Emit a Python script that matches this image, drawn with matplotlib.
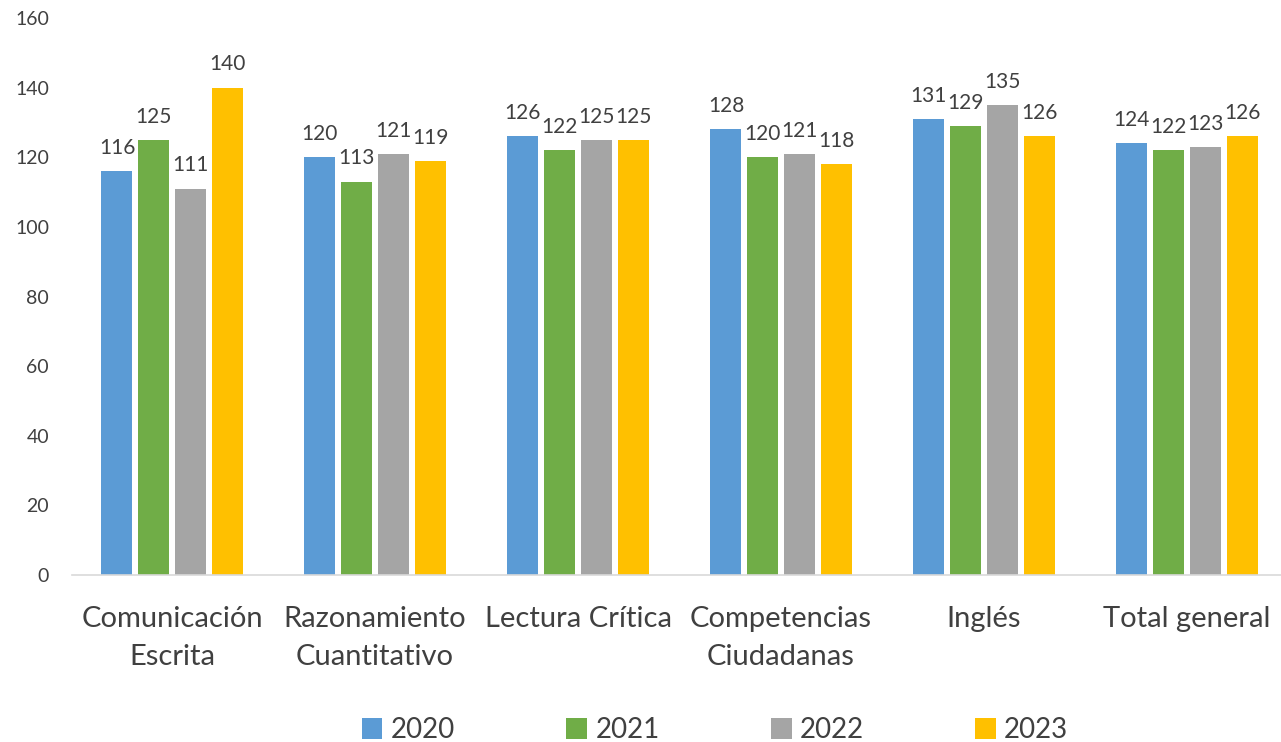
import matplotlib
matplotlib.use("Agg")
import matplotlib.pyplot as plt
import numpy as np

plt.rcParams['font.family'] = ['Lato', 'DejaVu Sans']

categorias = ["Comunicación\nEscrita", "Razonamiento\nCuantitativo", "Lectura Crítica",
              "Competencias\nCiudadanas", "Inglés", "Total general"]
anios = ["2020", "2021", "2022", "2023"]
v2020 = [116, 120, 126, 128, 131, 124]
v2021 = [125, 113, 122, 120, 129, 122]
v2022 = [111, 121, 125, 121, 135, 123]
v2023 = [140, 119, 125, 118, 126, 126]
series = [v2020, v2021, v2022, v2023]
colores = ["#5B9BD5", "#70AD47", "#A5A5A5", "#FFC000"]
texto = "#404040"

fig = plt.figure(figsize=(12.81, 7.42), dpi=100)
ax = fig.add_axes([72 / 1281, 167 / 742, 1 - 72 / 1281, 557 / 742])

x = np.arange(len(categorias))
ancho = 0.153
paso = 0.181
for i, (vals, col, lab) in enumerate(zip(series, colores, anios)):
    pos = x + (i - 1.5) * paso
    barras = ax.bar(pos, vals, width=ancho, color=col, label=lab)
    ax.bar_label(barras, labels=[str(v) for v in vals], padding=9.5,
                 fontsize=15, color=texto)

ax.set_xlim(-0.493, 5.463)
ax.set_ylim(0, 160)
ax.set_yticks(range(0, 161, 20))
ax.set_xticks(x)
ax.set_xticklabels(categorias, fontsize=21, color=texto, linespacing=1.55)
ax.tick_params(axis='x', length=0, pad=22.5)
ax.tick_params(axis='y', length=0, pad=16.5, labelsize=14, labelcolor=texto)

for s in ['top', 'right', 'left']:
    ax.spines[s].set_visible(False)
ax.spines['bottom'].set_color('#D9D9D9')
ax.spines['bottom'].set_linewidth(1.2)
ax.patch.set_alpha(0)

leg = fig.legend(loc='center', bbox_to_anchor=(715 / 1281, 0.016), ncol=4, frameon=False,
                 fontsize=20, handlelength=0.75, handleheight=0.75, handletextpad=0.3,
                 columnspacing=4.0, labelcolor=texto)

fig.savefig("out.png", dpi=100)
